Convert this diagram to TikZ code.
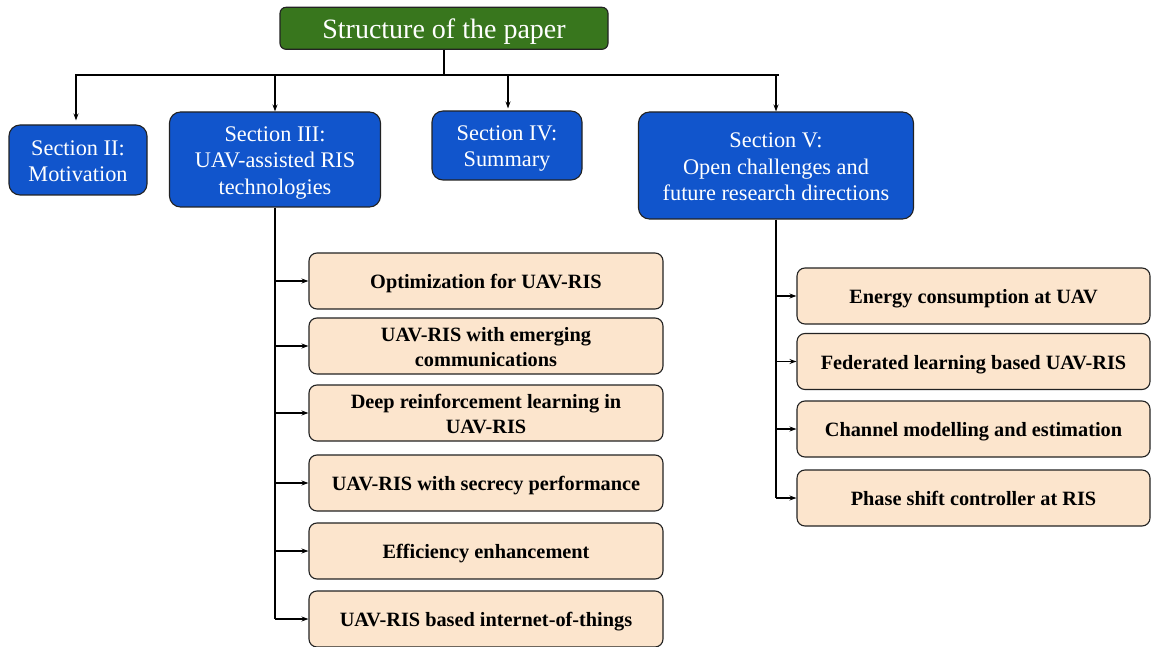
\documentclass[tikz,border=0pt]{standalone}
\usepackage{fontspec}
\setmainfont{Liberation Serif}
\usetikzlibrary{arrows.meta}
\definecolor{titlegreen}{HTML}{38761D}
\definecolor{secblue}{HTML}{1155CC}
\definecolor{peach}{HTML}{FCE5CD}
\definecolor{edgegray}{HTML}{222222}
\newcommand\cst{\rule[-0.18em]{0pt}{1.14em}}
\tikzset{
  titlebox/.style={draw=edgegray, line width=1.1pt, fill=titlegreen, rounded corners=6pt, text=white,
    font=\fontsize{28}{32}\selectfont, minimum width=328pt, minimum height=42pt, inner sep=0pt},
  secbox/.style={draw=edgegray, line width=1.1pt, fill=secblue, rounded corners=11pt, text=white,
    font=\fontsize{22.3}{26.3}\selectfont, align=center, inner sep=0pt},
  subbox/.style={draw=edgegray, line width=1.1pt, fill=peach, rounded corners=8pt, text=black,
    font=\fontsize{20.3}{25}\selectfont\bfseries, align=center, inner sep=0pt,
    minimum width=354pt, minimum height=56pt},
  conn/.style={line width=1.4pt, black},
  arr/.style={conn, -{Stealth[length=7pt,width=5pt]}},
}
\begin{document}
\begin{tikzpicture}[x=1pt,y=-1pt]
\useasboundingbox (0,0) rectangle (1151,647);
% title
\node[titlebox] (title) at (444,28.3) {\cst Structure of the paper};
% sections
\node[secbox, minimum width=138pt, minimum height=70pt] (s2) at (78,160) {\cst Section II:\\Motivation\cst};
\node[secbox, minimum width=211pt, minimum height=95pt] (s3) at (275,159.5) {\cst Section III:\\UAV-assisted RIS\\technologies\cst};
\node[secbox, minimum width=150pt, minimum height=69pt] (s4) at (507,145.5) {\cst Section IV:\\Summary\cst};
\node[secbox, minimum width=275pt, minimum height=107pt] (s5) at (776,165.5) {\cst Section V:\\Open challenges and\\future research directions\cst};
% bus
\coordinate (busL) at (75,75);
\coordinate (busR) at (779,75);
\coordinate (busT) at (title.south |- busL);
\draw[conn] (busL) -- (busR);
\draw[conn] (title.south) -- (busT);
\coordinate (b2) at (76,75);
\coordinate (b3) at (275,75);
\coordinate (b4) at (508,75);
\coordinate (b5) at (776,75);
\draw[arr, shorten >=4pt] (b2) -- (b2 |- s2.north);
\draw[arr] (b3) -- (b3 |- s3.north);
\draw[arr, shorten >=2pt] (b4) -- (b4 |- s4.north);
\draw[arr] (b5) -- (b5 |- s5.north);
% left subs
\node[subbox] (l1) at (486,281) {\cst Optimization for UAV-RIS};
\node[subbox] (l2) at (486,346) {\cst UAV-RIS with emerging\\communications\cst};
\node[subbox] (l3) at (486,413) {\cst Deep reinforcement learning in\\UAV-RIS\cst};
\node[subbox] (l4) at (486,483) {\cst UAV-RIS with secrecy performance};
\node[subbox] (l5) at (486,551) {\cst Efficiency enhancement};
\node[subbox] (l6) at (486,619) {\cst UAV-RIS based internet-of-things};
\draw[conn] (s3.south) -- (s3.south |- l6.west);
\foreach \n in {l1,l2,l3,l4,l5,l6}
  \draw[arr] (s3.south |- \n.west) -- (\n.west);
% right subs
\node[subbox, minimum width=353pt] (r1) at (973.5,296) {\cst Energy consumption at UAV};
\node[subbox, minimum width=353pt] (r2) at (973.5,361.5) {\cst Federated learning based UAV-RIS};
\node[subbox, minimum width=353pt] (r3) at (973.5,429) {\cst Channel modelling and estimation};
\node[subbox, minimum width=353pt] (r4) at (973.5,498) {\cst Phase shift controller at RIS};
\draw[conn] (s5.south) -- (s5.south |- r4.west);
\foreach \n in {r1,r2,r3,r4}
  \draw[arr] (s5.south |- \n.west) -- (\n.west);
\end{tikzpicture}
\end{document}
